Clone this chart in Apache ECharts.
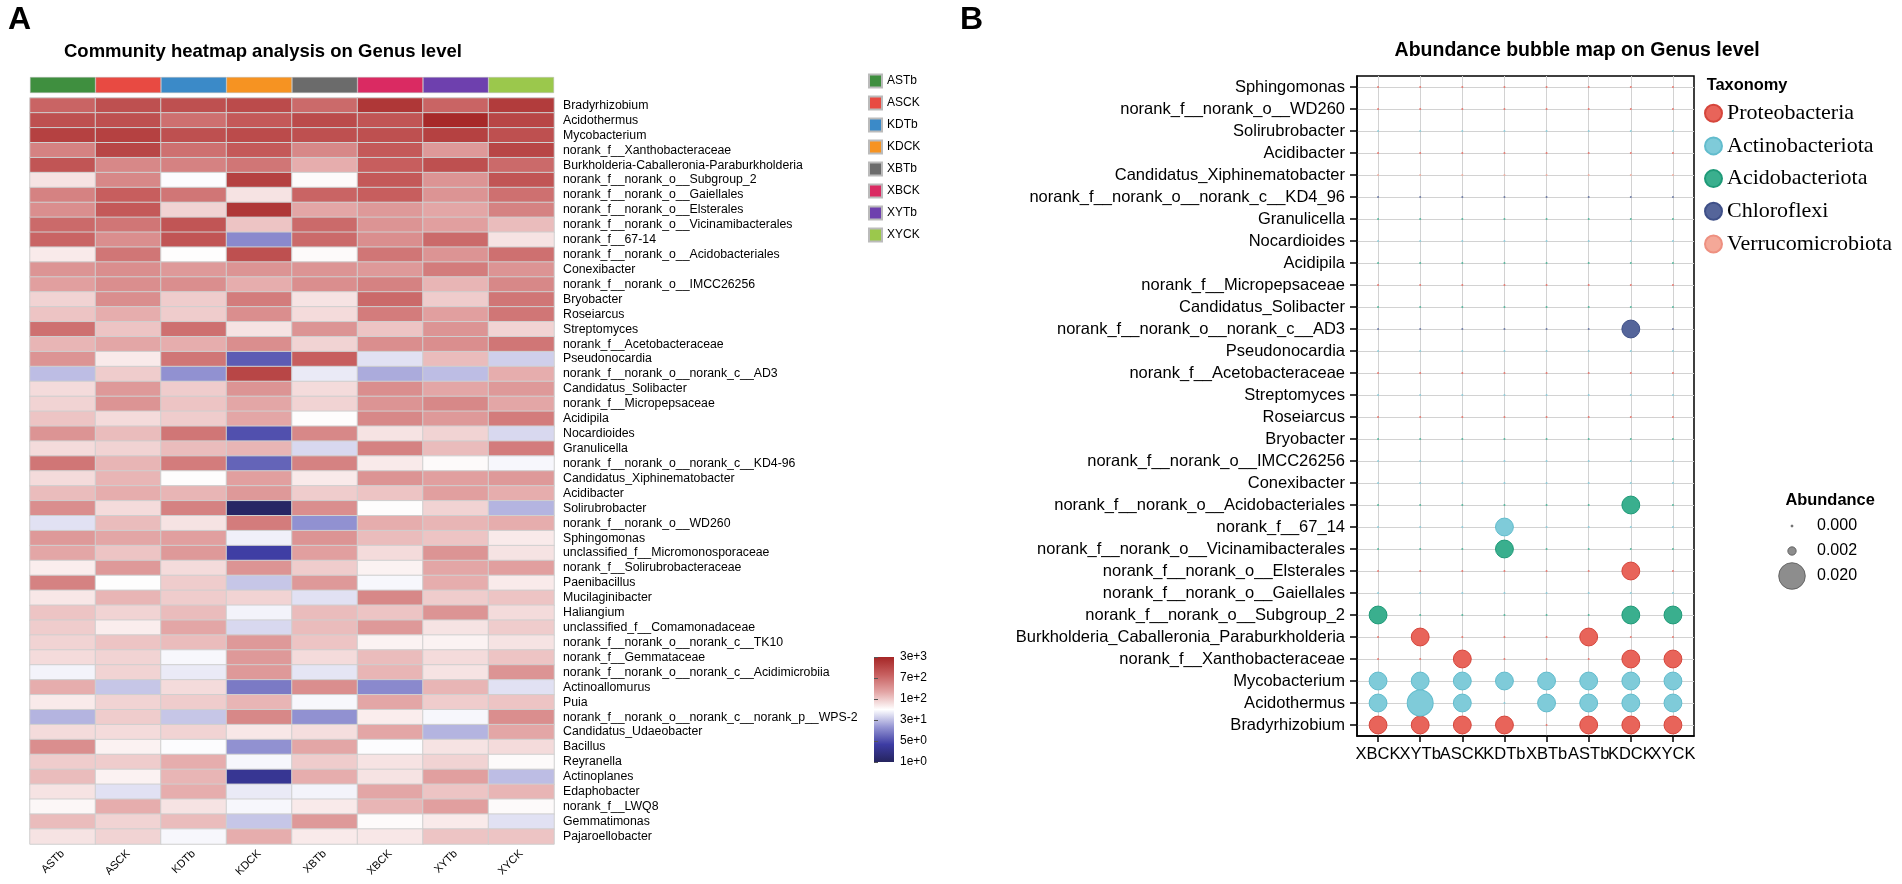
<!DOCTYPE html>
<html><head><meta charset="utf-8">
<script src="https://cdn.jsdelivr.net/npm/echarts@6/dist/echarts.min.js"></script>
<style>html,body{margin:0;padding:0;background:#fff}#c{width:1902px;height:884px}</style>
</head><body><div id="c"></div>
<script>
// ---------- Panel A: heatmap ----------
const samples = ['ASTb','ASCK','KDTb','KDCK','XBTb','XBCK','XYTb','XYCK'];
const sampleColors = ['#3f8f3f','#e84a42','#3b8ac8','#f69322','#6b6b6b','#da2a62','#6e40ae','#9bc84c'];
const heatRows = [
 'Bradyrhizobium','Acidothermus','Mycobacterium','norank_f__Xanthobacteraceae',
 'Burkholderia-Caballeronia-Paraburkholderia','norank_f__norank_o__Subgroup_2',
 'norank_f__norank_o__Gaiellales','norank_f__norank_o__Elsterales',
 'norank_f__norank_o__Vicinamibacterales','norank_f__67-14','norank_f__norank_o__Acidobacteriales',
 'Conexibacter','norank_f__norank_o__IMCC26256','Bryobacter','Roseiarcus','Streptomyces',
 'norank_f__Acetobacteraceae','Pseudonocardia','norank_f__norank_o__norank_c__AD3',
 'Candidatus_Solibacter','norank_f__Micropepsaceae','Acidipila','Nocardioides','Granulicella',
 'norank_f__norank_o__norank_c__KD4-96','Candidatus_Xiphinematobacter','Acidibacter',
 'Solirubrobacter','norank_f__norank_o__WD260','Sphingomonas','unclassified_f__Micromonosporaceae',
 'norank_f__Solirubrobacteraceae','Paenibacillus','Mucilaginibacter','Haliangium',
 'unclassified_f__Comamonadaceae','norank_f__norank_o__norank_c__TK10','norank_f__Gemmataceae',
 'norank_f__norank_o__norank_c__Acidimicrobiia','Actinoallomurus','Puia',
 'norank_f__norank_o__norank_c__norank_p__WPS-2','Candidatus_Udaeobacter','Bacillus','Reyranella',
 'Actinoplanes','Edaphobacter','norank_f__LWQ8','Gemmatimonas','Pajaroellobacter'
];
// log10(abundance), columns in the order of `samples`
const heatLog = [
 [2.9,3.1,3.1,3.15,2.85,3.35,2.9,3.3],
 [3.1,3.1,2.8,3.0,3.15,3.05,3.5,3.2],
 [3.25,3.25,3.1,3.15,3.1,3.1,3.25,3.1],
 [2.65,3.2,2.8,3.0,2.6,3.0,2.45,3.2],
 [3.05,2.6,2.65,2.75,2.3,2.95,3.1,2.85],
 [1.95,2.6,1.75,3.25,1.8,3.0,2.5,3.05],
 [2.65,2.95,2.75,1.95,2.9,2.95,2.5,2.8],
 [2.55,3.0,2.05,3.35,2.35,2.45,2.35,2.65],
 [2.85,2.75,3.05,2.15,2.85,2.5,2.4,2.2],
 [2.9,2.55,3.05,1.1,2.85,2.55,2.85,1.95],
 [1.9,2.75,1.78,3.1,1.8,2.75,2.5,2.8],
 [2.5,2.55,2.45,2.5,2.5,2.45,2.7,2.5],
 [2.4,2.55,2.55,2.3,2.55,2.65,2.25,2.6],
 [2.05,2.55,2.1,2.7,1.95,2.85,2.1,2.75],
 [2.15,2.3,2.1,2.55,2.0,2.7,2.4,2.75],
 [2.8,2.15,2.8,1.95,2.5,2.15,2.5,2.05],
 [2.25,2.35,2.3,2.55,2.05,2.55,2.55,2.75],
 [2.5,1.9,2.75,0.8,2.95,1.6,2.2,1.5],
 [1.4,2.1,1.15,3.2,1.65,1.3,1.4,2.3],
 [2.0,2.45,2.1,2.5,2.0,2.55,2.35,2.45],
 [2.05,2.5,2.15,2.35,2.05,2.5,2.6,2.35],
 [2.15,2.0,2.1,2.35,1.78,2.6,2.45,2.7],
 [2.5,2.2,2.75,0.72,2.6,1.95,2.05,1.55],
 [2.0,2.05,2.2,2.25,1.55,2.65,2.2,2.7],
 [2.75,2.25,2.7,0.85,2.65,1.9,1.8,1.72],
 [2.0,2.25,1.78,2.4,1.9,2.5,2.4,2.45],
 [2.2,2.3,2.25,2.45,2.1,2.15,2.4,2.3],
 [2.55,2.0,2.65,0.05,2.55,1.78,2.05,1.35],
 [1.6,2.2,1.95,2.7,1.15,2.3,2.25,2.3],
 [2.45,2.35,2.4,1.68,2.5,2.2,2.15,1.9],
 [2.35,2.15,2.45,0.6,2.4,2.0,2.5,1.95],
 [1.88,2.45,2.0,2.5,2.1,1.85,2.35,2.4],
 [2.65,1.78,2.1,1.45,2.45,1.72,2.3,1.9],
 [1.92,2.25,2.1,2.05,1.6,2.6,2.1,2.15],
 [2.15,2.05,2.2,1.7,2.2,2.15,2.5,2.0],
 [2.1,1.88,2.35,1.55,2.2,2.45,1.95,2.1],
 [2.05,2.15,2.2,2.45,2.15,1.85,1.85,1.95],
 [2.0,2.05,1.72,2.45,2.0,2.2,2.0,2.15],
 [1.7,2.05,1.65,2.45,1.62,2.25,1.95,2.5],
 [2.3,1.45,2.0,1.0,2.55,1.1,2.25,1.6],
 [1.9,2.05,2.1,2.25,1.72,2.35,2.1,2.15],
 [1.35,2.1,1.45,2.6,1.15,1.88,1.72,2.55],
 [2.0,2.0,2.05,1.92,1.98,2.35,1.35,2.35],
 [2.55,1.85,1.75,1.15,2.35,1.75,1.95,2.0],
 [2.1,2.1,2.3,1.72,2.1,1.95,2.05,1.8],
 [2.2,1.85,2.25,0.45,2.3,1.95,2.4,1.4],
 [1.95,1.6,2.3,1.65,1.7,2.35,2.15,2.25],
 [1.82,2.3,1.95,1.72,1.9,2.25,2.4,1.8],
 [2.2,2.05,2.2,1.45,2.45,1.8,1.9,1.6],
 [1.95,2.05,1.72,2.3,1.9,1.92,2.15,2.15]
];
const heatLogMax = 3.53;   // top of colour scale (~3e+3)
const heatTickCount = 5;   // colour bar split into 5 equal steps
const heatPalette = ['#25245e','#3d3ca3','#9595d3','#ffffff','#e3a5a5','#c75f5f','#a52626'];

// ---------- Panel B: bubble map ----------
const bubbleSamples = ['XBCK','XYTb','ASCK','KDTb','XBTb','ASTb','KDCK','XYCK'];
const bubbleGenera = [
 'Sphingomonas','norank_f__norank_o__WD260','Solirubrobacter','Acidibacter',
 'Candidatus_Xiphinematobacter','norank_f__norank_o__norank_c__KD4_96','Granulicella',
 'Nocardioides','Acidipila','norank_f__Micropepsaceae','Candidatus_Solibacter',
 'norank_f__norank_o__norank_c__AD3','Pseudonocardia','norank_f__Acetobacteraceae',
 'Streptomyces','Roseiarcus','Bryobacter','norank_f__norank_o__IMCC26256','Conexibacter',
 'norank_f__norank_o__Acidobacteriales','norank_f__67_14','norank_f__norank_o__Vicinamibacterales',
 'norank_f__norank_o__Elsterales','norank_f__norank_o__Gaiellales','norank_f__norank_o__Subgroup_2',
 'Burkholderia_Caballeronia_Paraburkholderia','norank_f__Xanthobacteraceae','Mycobacterium',
 'Acidothermus','Bradyrhizobium'
];
const phyla = ['Proteobacteria','Actinobacteriota','Acidobacteriota','Chloroflexi','Verrucomicrobiota'];
const phylaColors = ['#e8645a','#7fcbd9','#3aaf8e','#55659a','#f4a898'];
const phylaBorders = ['#d6463c','#62bccd','#1f9a78','#3f5088','#ee9080'];
const bubblePhylum = [0,0,1,0,4,3,2,1,2,0,2,3,1,0,1,0,2,1,1,2,1,2,0,1,2,0,0,1,1,0];
// rows follow bubbleGenera, columns follow bubbleSamples
const bubbleValues = [
 [0,0,0,0,0,0,0,0],[0,0,0,0,0,0,0,0],[0,0,0,0,0,0,0,0],[0,0,0,0,0,0,0,0],
 [0,0,0,0,0,0,0,0],[0,0,0,0,0,0,0,0],[0,0,0,0,0,0,0,0],[0,0,0,0,0,0,0,0],
 [0,0,0,0,0,0,0,0],[0,0,0,0,0,0,0,0],[0,0,0,0,0,0,0,0],
 [0,0,0,0,0,0,0.009,0],
 [0,0,0,0,0,0,0,0],[0,0,0,0,0,0,0,0],[0,0,0,0,0,0,0,0],[0,0,0,0,0,0,0,0],
 [0,0,0,0,0,0,0,0],[0,0,0,0,0,0,0,0],[0,0,0,0,0,0,0,0],
 [0,0,0,0,0,0,0.009,0],
 [0,0,0,0.009,0,0,0,0],
 [0,0,0,0.009,0,0,0,0],
 [0,0,0,0,0,0,0.009,0],
 [0,0,0,0,0,0,0,0],
 [0.009,0,0,0,0,0,0.009,0.009],
 [0,0.009,0,0,0,0.009,0,0],
 [0,0,0.009,0,0,0,0.009,0.009],
 [0.009,0.009,0.009,0.009,0.009,0.009,0.009,0.009],
 [0.009,0.019,0.009,0,0.009,0.009,0.009,0.009],
 [0.009,0.009,0.009,0.009,0,0.009,0.009,0.009]
];
const sizeLegendLabels = ['0.000','0.002','0.020'];
const sizeLegendValues = [0, 0.002, 0.020];

// ---------- build ----------
const FONT = 'Liberation Sans, Arial, Helvetica, sans-serif';
const bubbleSize = v => Math.max(2, 26.6 * Math.sqrt(v / 0.02));

const heatData = [];
heatRows.forEach((r, ri) => samples.forEach((s, ci) => heatData.push([ci, ri, heatLog[ri][ci]])));

const annotSeries = samples.map((s, i) => ({
  name: s, type: 'bar', xAxisIndex: 1, yAxisIndex: 1, barWidth: '100%', barGap: '-100%',
  itemStyle: { color: sampleColors[i], borderColor: '#bbbbbb', borderWidth: 0.5 },
  data: samples.map((t, j) => j === i ? 1 : '-'), silent: true, animation: false
}));

const bubbleSeries = phyla.map((p, pi) => {
  const data = [];
  bubbleGenera.forEach((g, gi) => {
    if (bubblePhylum[gi] !== pi) return;
    bubbleSamples.forEach((s, si) => {
      const v = bubbleValues[gi][si];
      data.push(v > 0 ? { value: [si, gi, v] } :
        { value: [si, gi, v], itemStyle: { borderWidth: 0, opacity: 0.8 } });
    });
  });
  return {
    name: p, type: 'scatter', xAxisIndex: 3, yAxisIndex: 3, data,
    symbolSize: d => bubbleSize(d[2]),
    itemStyle: { color: phylaColors[pi], borderColor: phylaBorders[pi], borderWidth: 1, opacity: 1 },
    animation: false
  };
});

const chart = echarts.init(document.getElementById('c'), null, { renderer: 'canvas' });
const gradStops = heatPalette.slice().reverse().map((c, i, a) => ({ offset: i / (a.length - 1), color: c }));

chart.setOption({
  backgroundColor: '#ffffff',
  animation: false,
  textStyle: { fontFamily: FONT },
  grid: [
    { left: 30, top: 98, width: 524, height: 746 },
    { left: 30, top: 77, width: 524, height: 16 },
    { left: 874, top: 657, width: 20, height: 105 },
    { left: 1357, top: 76, width: 337, height: 660, show: true, borderColor: '#000', borderWidth: 1.5, backgroundColor: 'transparent' },
    { left: 1780, top: 513.5, width: 24, height: 75 }
  ],
  xAxis: [
    { gridIndex: 0, type: 'category', data: samples, position: 'bottom',
      axisLine: { show: false }, axisTick: { show: false }, splitLine: { show: false },
      axisLabel: { rotate: 45, interval: 0, fontSize: 11, color: '#000', margin: 8, fontFamily: FONT } },
    { gridIndex: 1, type: 'category', data: samples, show: false },
    { gridIndex: 2, type: 'value', min: 0, max: 1, show: false },
    { gridIndex: 3, type: 'category', data: bubbleSamples, boundaryGap: true,
      axisLine: { show: true, lineStyle: { color: '#000', width: 1.5 } },
      axisTick: { show: true, alignWithLabel: true, length: 6, lineStyle: { color: '#000', width: 1.5 } },
      splitLine: { show: true, alignWithLabel: true, lineStyle: { color: '#d2d2d2', width: 1 } },
      axisLabel: { interval: 0, hideOverlap: false, fontSize: 16.5, color: '#000', margin: 10, fontFamily: FONT } },
    { gridIndex: 4, type: 'category', data: ['a'], show: false }
  ],
  yAxis: [
    { gridIndex: 0, type: 'category', data: heatRows, inverse: true, position: 'right',
      axisLine: { show: false }, axisTick: { show: false }, splitLine: { show: false },
      axisLabel: { interval: 0, fontSize: 12.3, color: '#000', margin: 9, fontFamily: FONT } },
    { gridIndex: 1, type: 'value', min: 0, max: 1, show: false },
    { gridIndex: 2, type: 'value', min: 0, max: heatTickCount, interval: 1, position: 'right',
      axisLine: { show: false }, splitLine: { show: false },
      axisTick: { show: true, length: 4, lineStyle: { color: '#555' } },
      axisLabel: { fontSize: 12, color: '#000', margin: 6, fontFamily: FONT,
        formatter: v => Math.pow(10, v * heatLogMax / heatTickCount).toExponential(0) } },
    { gridIndex: 3, type: 'category', data: bubbleGenera, inverse: true, boundaryGap: true,
      axisLine: { show: true, lineStyle: { color: '#000', width: 1.5 } },
      axisTick: { show: true, alignWithLabel: true, length: 7, lineStyle: { color: '#000', width: 1.5 } },
      splitLine: { show: true, alignWithLabel: true, lineStyle: { color: '#d2d2d2', width: 1 } },
      axisLabel: { interval: 0, fontSize: 16.5, color: '#000', margin: 12, fontFamily: FONT } },
    { gridIndex: 4, type: 'category', data: sizeLegendLabels, inverse: true, position: 'right',
      axisLine: { show: false }, axisTick: { show: false }, splitLine: { show: false },
      axisLabel: { fontSize: 16, color: '#000', margin: 13, fontFamily: FONT } }
  ],
  visualMap: [{
    type: 'continuous', show: false, seriesIndex: 0, dimension: 2,
    min: 0, max: heatLogMax, inRange: { color: heatPalette }
  }],
  legend: [
    { data: samples, orient: 'vertical', left: 868, top: 73.5, padding: 0,
      itemWidth: 13, itemHeight: 13, itemGap: 7, icon: 'rect', selectedMode: false,
      textStyle: { fontSize: 12, color: '#000', lineHeight: 13, fontFamily: FONT } },
    { data: phyla, orient: 'vertical', left: 1704, top: 102.2, padding: 0,
      itemWidth: 17, itemHeight: 17, itemGap: 10.7, icon: 'circle', selectedMode: false,
      textStyle: { fontSize: 22, color: '#000', lineHeight: 17, fontFamily: 'Liberation Serif, Times New Roman, serif' } }
  ],
  series: [
    { type: 'heatmap', xAxisIndex: 0, yAxisIndex: 0, data: heatData,
      itemStyle: { borderColor: '#cfcfcf', borderWidth: 1 }, emphasis: { disabled: true } }
  ].concat(annotSeries, bubbleSeries, [
    { type: 'scatter', xAxisIndex: 4, yAxisIndex: 4,
      data: sizeLegendValues.map((v, i) => [0, i, v]),
      symbolSize: d => bubbleSize(d[2]),
      itemStyle: { color: '#707070', borderColor: '#555555', borderWidth: 1 }, silent: true }
  ]),
  graphic: [
    { type: 'text', x: 8, y: 20, style: { text: 'A', font: 'bold 32px ' + FONT, fill: '#000', verticalAlign: 'middle' } },
    { type: 'text', x: 960, y: 20, style: { text: 'B', font: 'bold 32px ' + FONT, fill: '#000', verticalAlign: 'middle' } },
    { type: 'text', x: 64, y: 52, style: { text: 'Community heatmap analysis on Genus level', font: 'bold 18.5px ' + FONT, fill: '#000', verticalAlign: 'middle' } },
    { type: 'text', x: 1394.6, y: 51, style: { text: 'Abundance bubble map on Genus level', font: 'bold 19.5px ' + FONT, fill: '#000', verticalAlign: 'middle' } },
    { type: 'text', x: 1706.7, y: 85, style: { text: 'Taxonomy', font: 'bold 16.4px ' + FONT, fill: '#000', verticalAlign: 'middle' } },
    { type: 'text', x: 1785.5, y: 500.7, style: { text: 'Abundance', font: 'bold 16.4px ' + FONT, fill: '#000', verticalAlign: 'middle' } },
    { type: 'rect', shape: { x: 874, y: 657, width: 20, height: 105 },
      style: { fill: new echarts.graphic.LinearGradient(0, 0, 0, 1, gradStops) } }
  ]
});
</script>
</body></html>
